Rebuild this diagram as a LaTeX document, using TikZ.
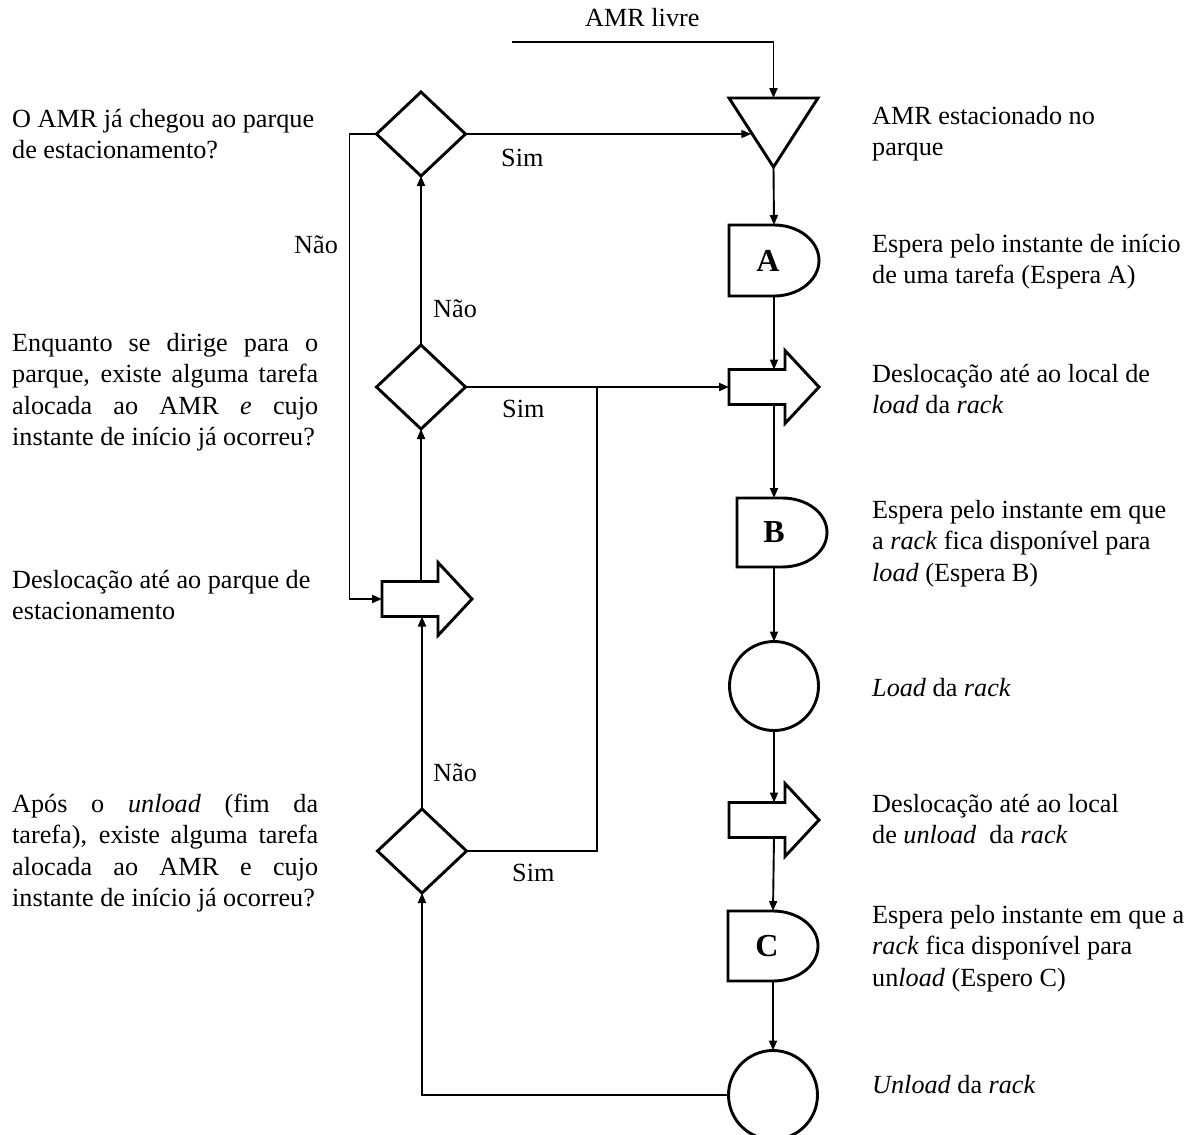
\documentclass[tikz,border=0pt]{standalone}
\usepackage{fontspec}
\setmainfont{Liberation Serif}
\usetikzlibrary{shapes.geometric,arrows.meta,calc}

% outline of a delay symbol drawn inside a bounding node
\newcommand\delayoutline[1]{%
  \draw[shp] (#1.north west) -- (#1.north)
    .. controls +(24.9pt,0pt) and +(0pt,19.6pt) .. (#1.east)
    .. controls +(0pt,-19.6pt) and +(24.9pt,0pt) .. (#1.south)
    -- (#1.south west) -- cycle;}
% outline of a transport (block arrow) symbol, plus body top/bottom points
\newcommand\movearrow[1]{%
  \draw[shp] ([yshift=17.5pt]#1.west) -- ([xshift=11pt,yshift=17.5pt]#1.center)
    -- ([xshift=11pt]#1.north) -- (#1.east) -- ([xshift=11pt]#1.south)
    -- ([xshift=11pt,yshift=-17.5pt]#1.center) -- ([yshift=-17.5pt]#1.west) -- cycle;
  \coordinate (#1t) at ([yshift=17.5pt]#1.center);
  \coordinate (#1b) at ([yshift=-17.5pt]#1.center);}

\begin{document}
\begin{tikzpicture}[x=1pt,y=-1pt,
  shp/.style={line width=2.9pt, line join=miter},
  conn/.style={line width=1.9pt, -{Triangle[length=10pt,width=8pt]}},
  link/.style={line width=1.9pt},
  dec/.style={diamond, draw, shp, minimum width=89pt, minimum height=84pt, inner sep=0pt, outer sep=0pt},
  box/.style={draw=none, inner sep=0pt, outer sep=0pt},
  op/.style={circle, draw, shp, minimum size=89pt, inner sep=0pt, outer sep=0pt},
  txt/.style={inner sep=0pt, anchor=base west, font=\fontsize{26.2}{31.5}\selectfont},
  letter/.style={inner sep=0pt, font=\fontsize{32}{32}\selectfont\bfseries}]

\useasboundingbox (0,0) rectangle (1189,1135);
\tolerance=10000 \hyphenpenalty=10000

% ---- right column: process symbols ----
\node[box, minimum width=89pt, minimum height=69pt] (park) at (773.5,132.5) {};
\draw[shp] (park.north west) -- (park.north east) -- (park.south) -- cycle;
\coordinate (parkL) at ($(park.north west)!0.5!(park.south)$);

\node[box, minimum width=90pt, minimum height=71pt,
      label={[letter, xshift=-6pt]center:A}] (wA) at (774,260.5) {};
\delayoutline{wA}

\node[box, minimum width=90pt, minimum height=73pt] (m2) at (774,387) {};
\movearrow{m2}

\node[box, minimum width=90pt, minimum height=69pt,
      label={[letter, xshift=-8pt]center:B}] (wB) at (782,532.5) {};
\delayoutline{wB}

\node[op] (c1) at (774,686) {};

\node[box, minimum width=90pt, minimum height=73pt] (m3) at (774,820) {};
\movearrow{m3}

\node[box, minimum width=90pt, minimum height=70pt,
      label={[letter, xshift=-6pt]center:C}] (wC) at (773,946) {};
\delayoutline{wC}

\node[op] (c2) at (773,1095) {};

% ---- left column: decisions and return trip ----
\node[dec] (q1) at (421,134) {};
\node[dec] (q2) at (421,387) {};
\node[dec] (q3) at (422,851) {};

\node[box, minimum width=90pt, minimum height=73pt] (m1) at (427,599) {};
\movearrow{m1}

% ---- connectors ----
\coordinate (src) at (512,42);
\draw[conn] (src) -| (park.north);
\draw[conn] (q1.east) -- (q1.east -| parkL);
\draw[conn] (q1.west) -- ++(-27,0) |- (m1.west);
\draw[conn] (park.south) -- (wA.north);
\draw[conn] (wA.south) -- (m2t);
\draw[conn] (m2b) -- (m2b |- wB.north);
\draw[conn] (c1.north |- wB.south) -- (c1.north);
\draw[conn] (c1.south) -- (m3t);
\draw[conn] (m3b) -- (wC.north);
\draw[conn] (wC.south) -- (c2.north);
\draw[conn] (c2.west) -| (q3.south);
\draw[conn] (q3.north) -- (q3.north |- m1b);
\draw[conn] (m1t -| q2.south) -- (q2.south);
\draw[conn] (q2.north) -- (q1.south);
\draw[conn] (q2.east) -- (m2.west);
\path (q2.east) -- (m2.west) coordinate[pos=0.5] (jn);
\draw[link] (q3.east) -| (jn);

% ---- branch labels ----
\node[txt] (lfree) at (585,27) {AMR livre};
\node[txt] (ls1) at (501,166) {Sim};
\node[txt] (ln1) at (294,253) {Não};
\node[txt] (ln2) at (433,317) {Não};
\node[txt] (ls2) at (502,417) {Sim};
\node[txt] (ln3) at (433,781) {Não};
\node[txt] (ls3) at (512,881) {Sim};

% ---- descriptions, left ----
\node[txt] (tq1) at (12,127) {\parbox[t]{306pt}{\raggedright
  O AMR já chegou ao parque\\de estacionamento?}};
\node[txt] (tq2) at (12,351) {\parbox[t]{306pt}{%
  Enquanto se dirige para o\linebreak parque, existe alguma tarefa\linebreak
  alocada ao AMR \textit{e} cujo\linebreak instante de início já ocorreu?}};
\node[txt] (tm1) at (12,588) {\parbox[t]{306pt}{\raggedright
  Deslocação até ao parque de\\estacionamento}};
\node[txt] (tq3) at (12,812) {\parbox[t]{306pt}{%
  Após o \textit{unload} (fim da\linebreak tarefa), existe alguma tarefa\linebreak
  alocada ao AMR e cujo\linebreak instante de início já ocorreu?}};

% ---- descriptions, right ----
\node[txt] (tp) at (872,124) {\parbox[t]{320pt}{\raggedright
  AMR estacionado no\\parque}};
\node[txt] (twA) at (872,252) {\parbox[t]{320pt}{\raggedright
  Espera pelo instante de início\\de uma tarefa (Espera A)}};
\node[txt] (tm2) at (872,382) {\parbox[t]{320pt}{\raggedright
  Deslocação até ao local de\\\textit{load} da \textit{rack}}};
\node[txt] (twB) at (872,518) {\parbox[t]{320pt}{\raggedright
  Espera pelo instante em que\\a \textit{rack} fica disponível para\\\textit{load} (Espera B)}};
\node[txt] (tc1) at (872,696) {\textit{Load} da \textit{rack}};
\node[txt] (tm3) at (872,812) {\parbox[t]{320pt}{\raggedright
  Deslocação até ao local\\de \textit{unload}\ \ da \textit{rack}}};
\node[txt] (twC) at (872,923) {\parbox[t]{320pt}{\raggedright
  Espera pelo instante em que a\\\textit{rack} fica disponível para\\un\textit{load} (Espero C)}};
\node[txt] (tc2) at (872,1093) {\textit{Unload} da \textit{rack}};

\end{tikzpicture}
\end{document}
